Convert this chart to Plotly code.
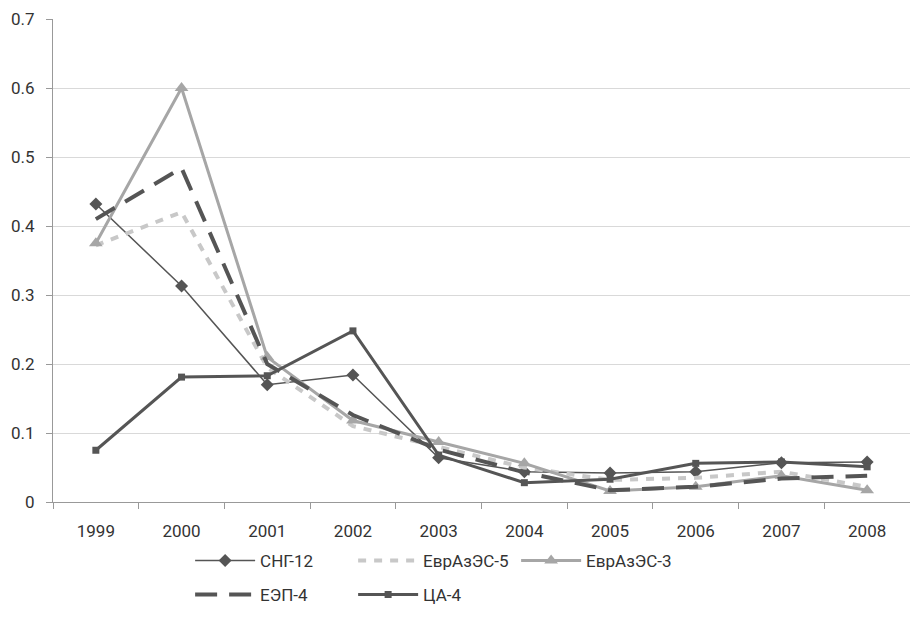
import plotly.graph_objects as go

years = ["1999", "2000", "2001", "2002", "2003", "2004", "2005", "2006", "2007", "2008"]
sng12 = [0.432, 0.313, 0.170, 0.184, 0.064, 0.044, 0.042, 0.044, 0.057, 0.058]
evraz5 = [0.372, 0.420, 0.195, 0.110, 0.080, 0.050, 0.032, 0.035, 0.044, 0.022]
evraz3 = [0.375, 0.600, 0.210, 0.118, 0.087, 0.056, 0.016, 0.022, 0.038, 0.017]
eep4 = [0.410, 0.484, 0.200, 0.126, 0.076, 0.043, 0.017, 0.022, 0.034, 0.038]
ca4 = [0.075, 0.181, 0.183, 0.248, 0.068, 0.028, 0.033, 0.056, 0.058, 0.051]

dark = "#555555"
fig = go.Figure()
fig.add_trace(go.Scatter(x=years, y=sng12, name="СНГ-12", mode="lines+markers",
                         line=dict(color=dark, width=1.5),
                         marker=dict(symbol="diamond", size=10, color=dark), legend="legend"))
fig.add_trace(go.Scatter(x=years, y=evraz5, name="ЕврАзЭС-5", mode="lines",
                         line=dict(color="#c8c8c8", width=4, dash="8px,8px"), legend="legend"))
fig.add_trace(go.Scatter(x=years, y=evraz3, name="ЕврАзЭС-3", mode="lines+markers",
                         line=dict(color="#a6a6a6", width=3),
                         marker=dict(symbol="triangle-up", size=12, color="#a6a6a6"), legend="legend"))
fig.add_trace(go.Scatter(x=years, y=eep4, name="ЕЭП-4", mode="lines",
                         line=dict(color=dark, width=4, dash="22px,12px"), legend="legend2"))
fig.add_trace(go.Scatter(x=years, y=ca4, name="ЦА-4", mode="lines+markers",
                         line=dict(color=dark, width=3),
                         marker=dict(symbol="square", size=7, color=dark), legend="legend2"))

legend_common = dict(orientation="h", xanchor="left", yanchor="top", x=0.16,
                     font=dict(size=17, color="#333333", family="Roboto"),
                     entrywidth=88, entrywidthmode="pixels", bgcolor="rgba(0,0,0,0)",
                     itemwidth=60)
fig.update_layout(
    width=910, height=626,
    margin=dict(l=53, r=0, t=19, b=124),
    plot_bgcolor="white", paper_bgcolor="white",
    font=dict(family="Roboto", size=17, color="#333333"),
    legend=dict(y=-0.085, **legend_common),
    legend2=dict(y=-0.155, **legend_common),
    xaxis=dict(type="category", range=[-0.5, 9.5], tickson="boundaries",
               ticks="outside", ticklen=6, tickcolor="#999999", ticklabelstandoff=14,
               showline=True, linecolor="#999999", linewidth=1, showgrid=False,
               tickfont=dict(size=17)),
    yaxis=dict(range=[0, 0.7], dtick=0.1, ticks="outside", ticklen=6,
               tickcolor="#999999", showline=True, linecolor="#999999", ticklabelstandoff=8,
               gridcolor="#d9d9d9", gridwidth=1, zeroline=False,
               tickfont=dict(size=17)),
)
fig.write_html("out.html")
